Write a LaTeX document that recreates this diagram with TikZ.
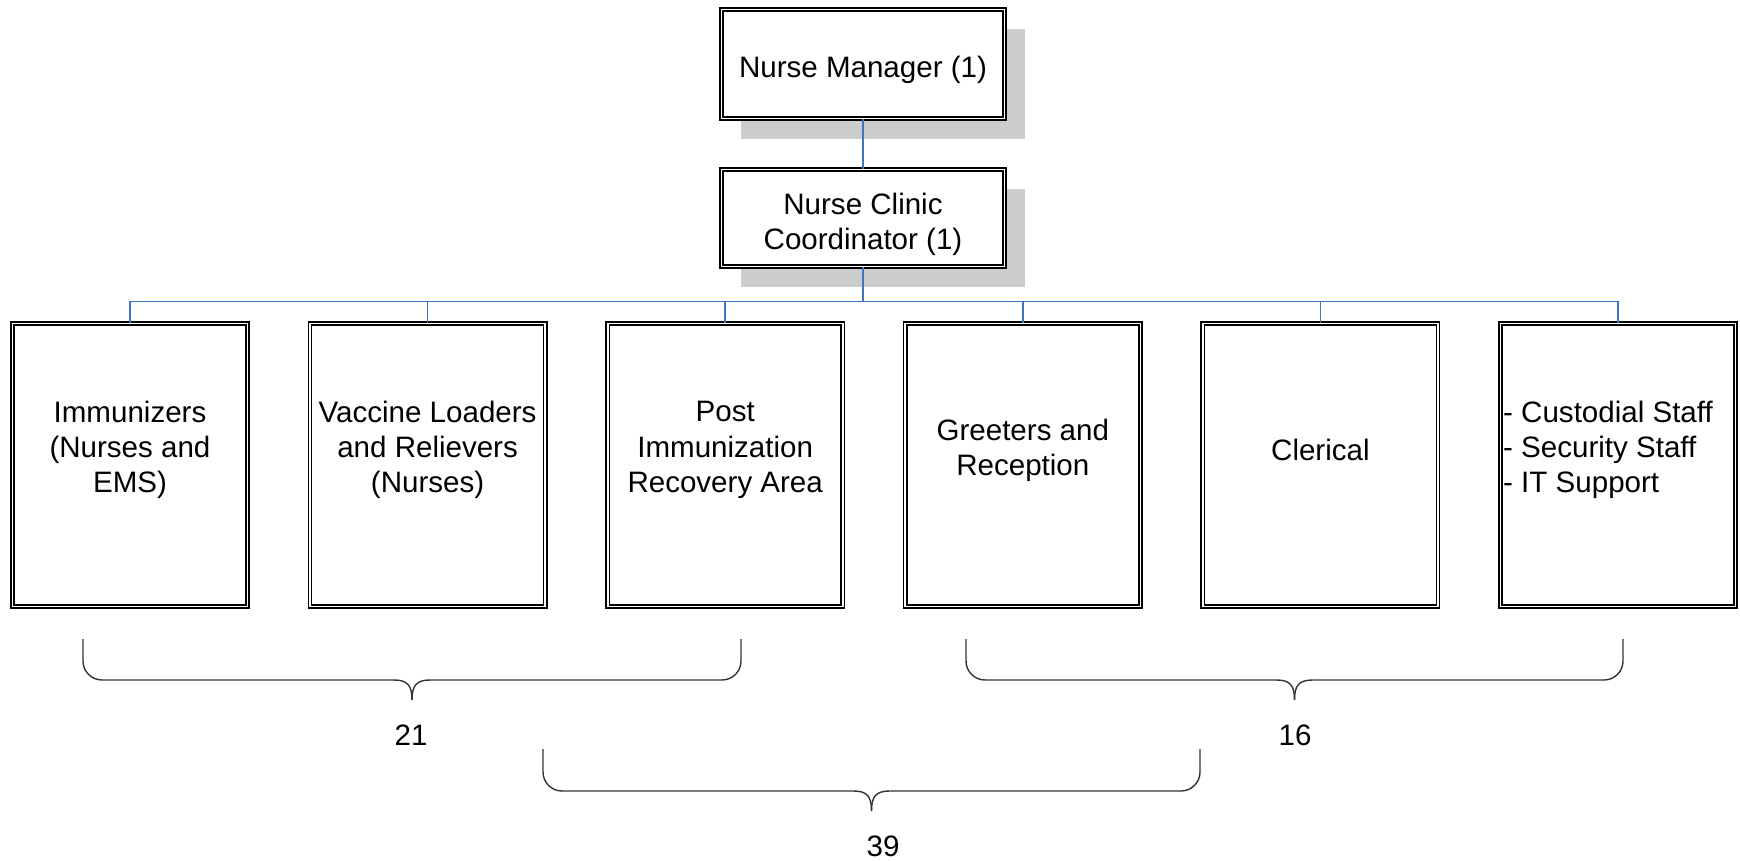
\documentclass[tikz,border=0pt]{standalone}
\usepackage{fontspec}
\setmainfont{Liberation Sans}
\usepackage{xcolor}
\usepackage{tikz}
\usetikzlibrary{
    positioning,
    shadows,
    calc
}
\definecolor{linkblue}{RGB}{68,114,196}
\definecolor{shadowgray}{RGB}{204,204,204}
\tikzstyle{boss} = [draw, double, line width=0.45pt, double distance=0.5pt, fill=white, minimum width=2.83cm,
    drop shadow={shadow xshift=0.2cm, shadow yshift=-0.2cm, fill=shadowgray, opacity=1}]
\tikzstyle{bosstext} = [align=center, yshift=-0.06cm]
\tikzstyle{unit} = [draw, double, line width=0.45pt, double distance=0.5pt, fill=white, minimum width=2.35cm, minimum height=2.83cm]
\tikzstyle{unittext} = [align=center, yshift=0.15cm]
\tikzstyle{link} = [linkblue, line width=0.45pt]
\tikzstyle{bracket} = [black!80, line width=0.4pt]

% llave: x izq, x der, y arriba, y linea, x etiqueta, nombre, texto
\newcommand{\llave}[7]{%
  \draw[bracket, rounded corners=0.19cm] (#1,#3) -- (#1,#4) -- ({(#1+#2)/2-18},#4);
  \draw[bracket, rounded corners=0.19cm] (#2,#3) -- (#2,#4) -- ({(#1+#2)/2+18},#4);
  \draw[bracket] ({(#1+#2)/2-18},#4) .. controls ({(#1+#2)/2-4},#4) and ({(#1+#2)/2},{#4+6}) .. ({(#1+#2)/2},{#4+20});
  \draw[bracket] ({(#1+#2)/2+18},#4) .. controls ({(#1+#2)/2+4},#4) and ({(#1+#2)/2},{#4+6}) .. ({(#1+#2)/2},{#4+20});
  \node (#6) at (#5,{#4+55}) {#7};
}

\begin{document}
\begin{tikzpicture}[x=0.01cm, y=-0.01cm, font=\fontsize{8.4}{10}\selectfont]

\useasboundingbox (0,0) rectangle (1740,861);

% Jefes
\node[boss, minimum height=1.09cm, label={[bosstext]center:{Nurse Manager (1)}}] (mgr) at (863,64) {};
\node[boss, minimum height=0.97cm, label={[bosstext]center:{Nurse Clinic\\Coordinator (1)}}] (coord) at (863,218) {};

% Areas
\node[unit, label={[unittext]center:{Immunizers\\(Nurses and\\EMS)}}] (imm) at (130,465) {};
\node[unit, label={[unittext]center:{Vaccine Loaders\\and Relievers\\(Nurses)}}] (vac) at (427.6,465) {};
\node[unit, label={[unittext]center:{Post\\Immunization\\Recovery Area}}] (post) at (725.2,465) {};
\node[unit, label={[unittext]center:{Greeters and\\Reception}}] (greet) at (1022.8,465) {};
\node[unit, label={[unittext]center:{Clerical}}] (cler) at (1320.4,465) {};
\node[unit, label={[unittext, align=left, xshift=-0.1cm]center:{- Custodial Staff\\- Security Staff\\- IT Support}}] (staff) at (1618,465) {};

% Conectores
\draw[link] (mgr) -- (coord);
\foreach \u in {imm,vac,post,greet,cler,staff}
  \draw[link] (coord.south) |- ([yshift=0.21cm]\u.north) -- (\u.north);

% Llaves
\llave{83}{741}{639}{680}{411}{n21}{21}
\llave{966}{1623}{639}{680}{1295}{n16}{16}
\llave{543}{1200}{749}{791}{883}{n39}{39}

\end{tikzpicture}
\end{document}
